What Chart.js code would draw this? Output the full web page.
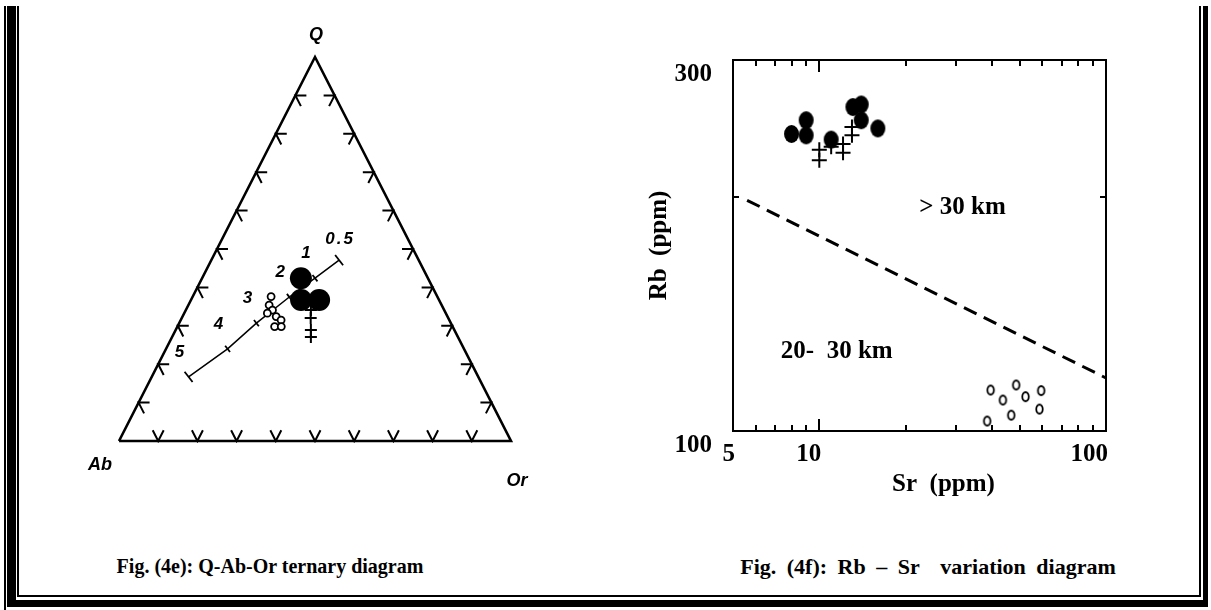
<!DOCTYPE html>
<html>
<head>
<meta charset="utf-8">
<script src="https://cdn.jsdelivr.net/npm/chart.js@4.4.1/dist/chart.umd.min.js"></script>
<style>
  html, body { margin: 0; padding: 0; background: #fff; }
  body { width: 1211px; height: 610px; position: relative; overflow: hidden; }
  canvas { position: absolute; top: 0; }
  #tern { left: 0; }
  #rbsr { left: 620px; }
  .cap { position: absolute; top: 555px; font: bold 20px "Liberation Serif", "Times New Roman", serif;
         white-space: pre; transform: translateX(-50%); color: #000; }
  .wide { font-size: 22px; top: 554px; word-spacing: 5px; }
  .rule { position: absolute; background: #000; }
</style>
</head>
<body>
<canvas id="tern" width="620" height="520"></canvas>
<canvas id="rbsr" width="591" height="520"></canvas>

<div class="cap" style="left:270px">Fig. (4e): Q-Ab-Or ternary diagram</div>
<div class="cap wide" style="left:928px">Fig. (4f): Rb – Sr  variation diagram</div>

<!-- page frame: thin / thick double rule -->
<div class="rule" style="left:4px;top:6px;width:2px;height:604px"></div>
<div class="rule" style="left:7px;top:6px;width:9px;height:601px"></div>
<div class="rule" style="left:17px;top:6px;width:2px;height:591px"></div>
<div class="rule" style="left:17px;top:595px;width:1184px;height:2px"></div>
<div class="rule" style="left:7px;top:600px;width:1201px;height:7px"></div>
<div class="rule" style="left:1199px;top:6px;width:2px;height:591px"></div>
<div class="rule" style="left:1203px;top:6px;width:5px;height:601px"></div>

<script>
// ---------- Q-Ab-Or ternary (normative %) ----------
const cornerNames = ['Q', 'Ab', 'Or'];
const gridSteps = [10, 20, 30, 40, 50, 60, 70, 80, 90];

// minimum-melt trend with water pressure (kbar)
const pressureLabels = ['0.5', '1', '2', '3', '4', '5'];
const minQ  = [47.1, 42.4, 37.5, 30.7, 24.0, 16.7];
const minAb = [20.3, 28.8, 37.8, 49.6, 60.3, 73.9];
const minOr = [32.6, 28.8, 24.7, 19.7, 15.7,  9.4];

// samples
const solidQ  = [42.4, 36.7, 36.7];
const solidAb = [32.4, 35.2, 30.6];
const solidOr = [25.2, 28.1, 32.7];

const crossQ  = [34.1, 32.0, 28.9, 27.1];
const crossAb = [34.0, 35.1, 36.6, 37.5];
const crossOr = [31.9, 32.9, 34.5, 35.4];

const ringQ  = [37.6, 35.4, 34.1, 32.4, 31.5, 29.8, 29.8, 33.3];
const ringAb = [42.4, 44.0, 43.8, 43.7, 42.9, 45.4, 43.7, 45.5];
const ringOr = [20.0, 20.6, 22.1, 23.9, 25.6, 24.8, 26.5, 21.2];

// ---------- Rb - Sr (ppm) ----------
const srTicks = [5, 6, 7, 8, 9, 10, 20, 30, 40, 50, 60, 70, 80, 90, 100];
const srLabelled = [5, 10, 100];
const rbTicks = [100, 200, 300];
const rbLabelled = [100, 300];

const granSr = [8, 9, 9, 11, 13.1, 14, 14, 16];
const granRb = [241, 251, 240, 237, 261, 263, 251, 245];

const plusSr = [10, 10, 11, 12.1, 12.1, 13, 13];
const plusRb = [230, 223, 232, 234, 228, 246, 240];

const ringSr = [39.6, 43.7, 48.6, 52.4, 59.4, 58.6, 46.7, 38.5];
const ringRb = [112.9, 109.6, 114.6, 110.7, 112.7, 106.7, 104.8, 103.0];

const depthSr = [5.6, 100];
const depthRb = [198, 117];

const zoneText = ['> 30 km', '20-  30 km'];
const zoneSr = [31.6, 11.5];
const zoneRb = [193.6, 126.4];

const srTitle = 'Sr  (ppm)';
const rbTitle = 'Rb  (ppm)';

// ---------- helpers ----------
function toXY(q, ab, or) {
  const s = q + ab + or;
  return { x: (or + q / 2) / s * 100, y: q / s * 100 };
}
function zipTern(Q, A, O) { return Q.map((q, i) => toXY(q, A[i], O[i])); }
function zipXY(X, Y) { return X.map((x, i) => ({ x, y: Y[i] })); }

function ellipseMark(w, h, filled, lw) {
  const c = document.createElement('canvas');
  c.width = Math.ceil(w + lw * 2 + 2);
  c.height = Math.ceil(h + lw * 2 + 2);
  const g = c.getContext('2d');
  g.beginPath();
  g.ellipse(c.width / 2, c.height / 2, w / 2, h / 2, 0, 0, Math.PI * 2);
  if (filled) { g.fillStyle = '#000'; g.fill(); }
  else { g.fillStyle = '#fff'; g.fill(); g.lineWidth = lw; g.strokeStyle = '#000'; g.stroke(); }
  return c;
}

Chart.defaults.animation = false;
Chart.defaults.events = [];
Chart.defaults.plugins.legend.display = false;
Chart.defaults.plugins.tooltip.enabled = false;

// ---------- ternary geometry ----------
const corners = [toXY(100, 0, 0), toXY(0, 100, 0), toXY(0, 0, 100)];
const outline = [corners[1], corners[2], corners[0], corners[1]];

// tick marks: two short arms along the grid directions at every 10 %
const arm = 2.8;
const tickSegs = [];
gridSteps.forEach(f => {
  // Ab-Q side (Or = 0)
  let p = toXY(f, 100 - f, 0);
  tickSegs.push(toXY(f, 100 - f - arm, arm), p, toXY(f - arm, 100 - f, arm), { x: p.x, y: null });
  // Q-Or side (Ab = 0)
  p = toXY(f, 0, 100 - f);
  tickSegs.push(toXY(f, arm, 100 - f - arm), p, toXY(f - arm, arm, 100 - f), { x: p.x, y: null });
  // Ab-Or side (Q = 0)
  p = toXY(0, 100 - f, f);
  tickSegs.push(toXY(arm, 100 - f - arm, f), p, toXY(arm, 100 - f, f - arm), { x: p.x, y: null });
});

const trend = zipTern(minQ, minAb, minOr);

function trendAngle(c) {
  const xs = c.chart.scales.x, ys = c.chart.scales.y;
  const a = trend[0], b = trend[trend.length - 1];
  const ang = Math.atan2(ys.getPixelForValue(b.y) - ys.getPixelForValue(a.y),
                         xs.getPixelForValue(b.x) - xs.getPixelForValue(a.x));
  return ang * 180 / Math.PI + 90;
}

const ternText = {
  id: 'ternText',
  afterDatasetsDraw(chart) {
    const { ctx, scales: { x, y } } = chart;
    ctx.save();
    ctx.fillStyle = '#000';
    ctx.textAlign = 'center';
    ctx.textBaseline = 'middle';
    ctx.font = 'italic bold 18px "Liberation Sans", Arial, sans-serif';
    const off = [[1, -22], [-19, 24], [6, 40]];
    corners.forEach((c, i) => {
      ctx.fillText(cornerNames[i], x.getPixelForValue(c.x) + off[i][0], y.getPixelForValue(c.y) + off[i][1]);
    });
    ctx.font = 'italic bold 17px "Liberation Sans", Arial, sans-serif';
    trend.forEach((p, i) => {
      const dx = i === 0 ? 1 : -9;
      const dy = i === 0 ? -21 : -25;
      ctx.letterSpacing = i === 0 ? '2px' : '0px';
      ctx.fillText(pressureLabels[i], x.getPixelForValue(p.x) + dx, y.getPixelForValue(p.y) + dy);
    });
    ctx.restore();
  }
};

new Chart(document.getElementById('tern'), {
  type: 'scatter',
  data: {
    datasets: [
      { data: zipTern(solidQ, solidAb, solidOr), pointStyle: 'circle', pointRadius: 11,
        pointBackgroundColor: '#000', pointBorderColor: '#000', pointBorderWidth: 0, clip: false },
      { data: zipTern(crossQ, crossAb, crossOr), pointStyle: 'cross', pointRadius: 6,
        pointBorderColor: '#000', pointBorderWidth: 2, clip: false },
      { data: zipTern(ringQ, ringAb, ringOr), pointStyle: 'circle', pointRadius: 3.5,
        pointBackgroundColor: '#fff', pointBorderColor: '#000', pointBorderWidth: 1.8, clip: false },
      { data: trend, showLine: true, borderColor: '#000', borderWidth: 1.5,
        pointStyle: 'line', rotation: trendAngle,
        pointRadius: c => (c.dataIndex === 0 || c.dataIndex === trend.length - 1) ? 6.5 : 4,
        pointBorderColor: '#000', pointBorderWidth: 1.8, clip: false },
      { data: tickSegs, showLine: true, spanGaps: false, borderColor: '#000', borderWidth: 2,
        pointRadius: 0, clip: false },
      { data: outline, showLine: true, borderColor: '#000', borderWidth: 2.6,
        borderJoinStyle: 'miter', pointRadius: 0, clip: false }
    ]
  },
  options: {
    responsive: false,
    layout: { padding: { left: 119, right: 109, top: 57, bottom: 79 } },
    scales: {
      x: { type: 'linear', min: 0, max: 100, display: false },
      y: { type: 'linear', min: 0, max: 100, display: false }
    }
  },
  plugins: [ternText]
});

// ---------- Rb - Sr chart ----------
const serifBold = { family: '"Liberation Serif", "Times New Roman", serif', weight: 'bold', size: 25 };

const rbFrame = {
  id: 'rbFrame',
  afterDatasetsDraw(chart) {
    const { ctx, chartArea: a, scales: { x, y } } = chart;
    ctx.save();
    ctx.strokeStyle = '#000';
    ctx.lineWidth = 2;
    ctx.strokeRect(a.left, a.top, a.right - a.left, a.bottom - a.top);
    ctx.beginPath();
    srTicks.forEach(v => {
      if (v === x.min || v === x.max) return;
      const px = Math.round(x.getPixelForValue(v));
      const len = srLabelled.includes(v) ? 12 : 6;
      ctx.moveTo(px, a.bottom); ctx.lineTo(px, a.bottom - len);
      ctx.moveTo(px, a.top); ctx.lineTo(px, a.top + len);
    });
    rbTicks.forEach(v => {
      if (v === y.min || v === y.max) return;
      const py = Math.round(y.getPixelForValue(v));
      ctx.moveTo(a.left, py); ctx.lineTo(a.left + 6, py);
      ctx.moveTo(a.right, py); ctx.lineTo(a.right - 6, py);
    });
    ctx.stroke();
    ctx.fillStyle = '#000';
    ctx.font = 'bold 25px "Liberation Serif", "Times New Roman", serif';
    ctx.textAlign = 'center';
    ctx.textBaseline = 'middle';
    zoneText.forEach((t, i) => {
      ctx.fillText(t, x.getPixelForValue(zoneSr[i]), y.getPixelForValue(zoneRb[i]));
    });
    // Sr axis caption sits a little right of the plot centre
    ctx.fillText(srTitle, (a.left + a.right) / 2 + 24, x.bottom - 16);
    ctx.restore();
  }
};

new Chart(document.getElementById('rbsr'), {
  type: 'scatter',
  data: {
    datasets: [
      { data: zipXY(plusSr, plusRb), pointStyle: 'cross', pointRadius: 7.5,
        pointBorderColor: '#000', pointBorderWidth: 2 },
      { data: zipXY(granSr, granRb), pointStyle: ellipseMark(15, 18, true, 0), pointRadius: 9 },
      { data: zipXY(ringSr, ringRb), pointStyle: ellipseMark(6.5, 9, false, 1.8), pointRadius: 6 },
      { data: zipXY(depthSr, depthRb), showLine: true, borderColor: '#000', borderWidth: 3,
        borderDash: [14, 8], pointRadius: 0, clip: false }
    ]
  },
  options: {
    responsive: false,
    layout: { padding: { left: 0, right: 105, top: 60, bottom: 19 } },
    scales: {
      x: {
        type: 'logarithmic', position: 'bottom', min: 5, max: 100,
        afterBuildTicks: s => { s.ticks = srTicks.map(v => ({ value: v })); },
        afterFit: s => { s.height = 70; },
        grid: { display: false, drawTicks: false },
        border: { display: false },
        ticks: {
          autoSkip: false, maxRotation: 0, minRotation: 0, align: 'end', padding: 9, labelOffset: 2,
          color: '#000', font: serifBold,
          callback: v => srLabelled.includes(v) ? String(v) : ''
        },
        title: { display: false }
      },
      y: {
        type: 'logarithmic', position: 'left', min: 100, max: 300,
        afterBuildTicks: s => { s.ticks = rbTicks.map(v => ({ value: v })); },
        afterFit: s => { s.width = 113; },
        grid: { display: false, drawTicks: false },
        border: { display: false },
        ticks: {
          autoSkip: false, padding: 21, labelOffset: 15,
          color: '#000', font: serifBold,
          callback: v => rbLabelled.includes(v) ? String(v) : ''
        },
        title: { display: true, text: rbTitle, color: '#000', font: serifBold,
                 padding: { top: 25, bottom: 0 } }
      }
    }
  },
  plugins: [rbFrame]
});
</script>
</body>
</html>
